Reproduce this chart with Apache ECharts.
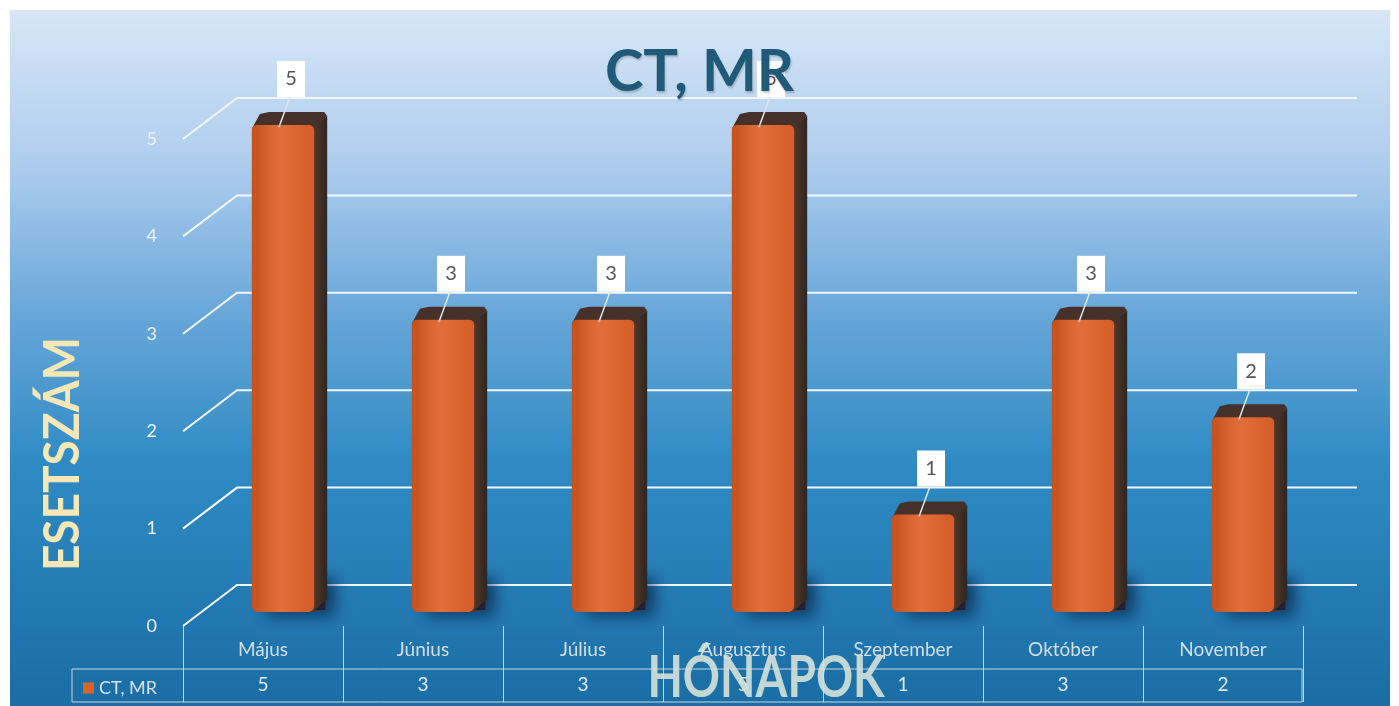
<!DOCTYPE html>
<html>
<head>
<meta charset="utf-8">
<title>CT, MR</title>
<script src="https://cdn.jsdelivr.net/npm/echarts@6/dist/echarts.min.js"></script>
<style>
  html, body { margin: 0; padding: 0; background: #fff; }
  #chart { width: 1399px; height: 706px; }
</style>
</head>
<body>
<div id="chart"></div>
<script>
const months = ["Május", "Június", "Július", "Augusztus", "Szeptember", "Október", "November"];
const values = [5, 3, 3, 5, 1, 3, 2];
const yTicks = [0, 1, 2, 3, 4, 5];
const seriesName = "CT, MR";

const FONT = "Lato, 'Open Sans', sans-serif";

// perspective offsets for the fake 3D look
const depthX = 54, depthY = -41;

const renderGrid = (params, api) => {
  const cs = params.coordSys;
  const y = api.coord([0, api.value(1)])[1];
  const x = cs.x;
  return {
    type: "polyline",
    shape: { points: [[x, y], [x + depthX, y + depthY], [x + depthX + cs.width, y + depthY]] },
    style: { stroke: "#f4f7fa", lineWidth: 2, fill: null }
  };
};

const renderBar = (params, api) => {
  const i = api.value(0);
  const v = api.value(1);
  const base = api.coord([i, 0]);
  const top = api.coord([i, v]);
  const w = api.size([1, 0])[0] * 0.39;
  const cx = top[0] + 20;
  const y0 = base[1] - 14, y1 = top[1] - 14;
  const x0 = cx - w / 2, x1 = cx + w / 2;
  const d = 13;
  const lx = cx + 8, ly = y1 - 46;
  return {
    type: "group",
    children: [
      {
        // soft shadow on the floor, the shape itself hides behind the bar
        type: "rect",
        shape: { x: x0 + 4, y: y0 - 40, width: w + d - 6, height: 38 },
        style: {
          fill: "rgba(40,30,30,0.9)",
          shadowBlur: 16, shadowColor: "rgba(5,25,60,0.75)",
          shadowOffsetX: 10, shadowOffsetY: 6
        }
      },
      {
        type: "polygon",
        shape: { points: [[x1 - 2, y1 + 2], [x1 + d, y1 - d + 4], [x1 + d, y0 - d], [x1 - 2, y0]] },
        style: {
          fill: new echarts.graphic.LinearGradient(0, 0, 1, 0, [
            { offset: 0, color: "#553829" }, { offset: 1, color: "#30261f" }
          ])
        }
      },
      {
        type: "polygon",
        shape: { points: [[x0, y1 + 4], [x0 + 8, y1 - d + 2], [x0 + d + 4, y1 - d], [x1 + d - 3, y1 - d], [x1 + d, y1 - d + 4], [x1, y1 + 2]] },
        style: { fill: "#45302a" }
      },
      {
        type: "rect",
        shape: { x: x0, y: y1, width: w, height: y0 - y1, r: [5, 5, 6, 6] },
        style: {
          fill: new echarts.graphic.LinearGradient(0, 0, 1, 0, [
            { offset: 0, color: "#c4521f" },
            { offset: 0.45, color: "#e36e38" },
            { offset: 1, color: "#d45d27" }
          ])
        }
      },
      {
        type: "line",
        shape: { x1: lx - 1, y1: ly + 18, x2: cx - 4, y2: y1 + 2 },
        style: { stroke: "#dfe6ec", lineWidth: 1.5 }
      },
      {
        type: "rect",
        shape: { x: lx - 14, y: ly - 18, width: 28, height: 36 },
        style: { fill: "#ffffff" }
      },
      {
        type: "text",
        style: {
          x: lx, y: ly, text: String(v), fill: "#555",
          font: "20px " + FONT, textAlign: "center", textVerticalAlign: "middle"
        }
      }
    ]
  };
};

const option = {
  animation: false,
  title: {
    text: seriesName,
    left: "center",
    top: 38,
    textStyle: {
      fontFamily: FONT, fontSize: 58, fontWeight: "bold", color: "#1f5a78",
      textShadowColor: "rgba(0,0,0,0.2)", textShadowBlur: 2, textShadowOffsetX: 1, textShadowOffsetY: 2
    }
  },
  legend: {
    left: 78,
    top: 674,
    icon: "rect",
    itemWidth: 11,
    itemHeight: 11,
    itemGap: 4,
    data: [seriesName],
    textStyle: { color: "#d6e0e8", fontSize: 18, fontFamily: FONT }
  },
  graphic: [
    {
      type: "rect", z: -10, silent: true,
      shape: { x: 10, y: 10, width: 1380, height: 696 },
      style: {
        fill: new echarts.graphic.LinearGradient(0, 0, 0, 1, [
          { offset: 0, color: "#d8e7f7" },
          { offset: 0.22, color: "#aecdee" },
          { offset: 0.45, color: "#64a5d8" },
          { offset: 0.65, color: "#2f8bc4" },
          { offset: 1, color: "#1a6da5" }
        ])
      }
    },
    {
      type: "rect", silent: true,
      shape: { x: 72, y: 669, width: 1230, height: 33 },
      style: { fill: null, stroke: "#c8d4dc", lineWidth: 1 }
    },
    {
      type: "text", silent: true,
      x: 63, y: 454, rotation: Math.PI / 2, scaleY: 1.1,
      style: {
        text: "ESETSZÁM", fill: "#f5e7b6",
        font: "bold 46px " + FONT, textAlign: "center", textVerticalAlign: "middle"
      }
    },
    {
      type: "text", silent: true, z: 100,
      x: 766, y: 678, scaleY: 1.25,
      style: {
        text: "HÓNAPOK", fill: "rgba(214,226,216,0.9)",
        font: "bold 46px " + FONT, textAlign: "center", textVerticalAlign: "middle"
      }
    }
  ],
  grid: { left: 183, top: 139, width: 1120, height: 487 },
  xAxis: [
    {
      type: "category",
      data: months,
      axisLine: { show: false },
      axisTick: { show: true, length: 76, interval: 0, lineStyle: { color: "#c8d4dc", width: 1 } },
      axisLabel: { color: "#d3dee8", fontSize: 19, fontFamily: FONT, margin: 14, interval: 0 }
    },
    {
      type: "category",
      position: "bottom",
      offset: 35,
      data: values.map(String),
      axisLine: { show: false },
      axisTick: { show: false },
      axisLabel: { color: "#e2e9ee", fontSize: 19, fontFamily: FONT, margin: 14, interval: 0 }
    }
  ],
  yAxis: {
    type: "value",
    min: 0,
    max: 5,
    interval: 1,
    axisLine: { show: false },
    axisTick: { show: false },
    splitLine: { show: false },
    axisLabel: { color: "#eef3f7", fontSize: 18, fontFamily: FONT, margin: 26 }
  },
  series: [
    {
      type: "custom",
      name: "grid",
      silent: true,
      renderItem: renderGrid,
      data: yTicks.map((t) => [0, t]),
      z: 1
    },
    {
      type: "custom",
      name: seriesName,
      renderItem: renderBar,
      itemStyle: { color: "#d9642a" },
      data: months.map((m, i) => [i, values[i]]),
      z: 3
    }
  ]
};

const chart = echarts.init(document.getElementById("chart"));
chart.setOption(option);
</script>
</body>
</html>
